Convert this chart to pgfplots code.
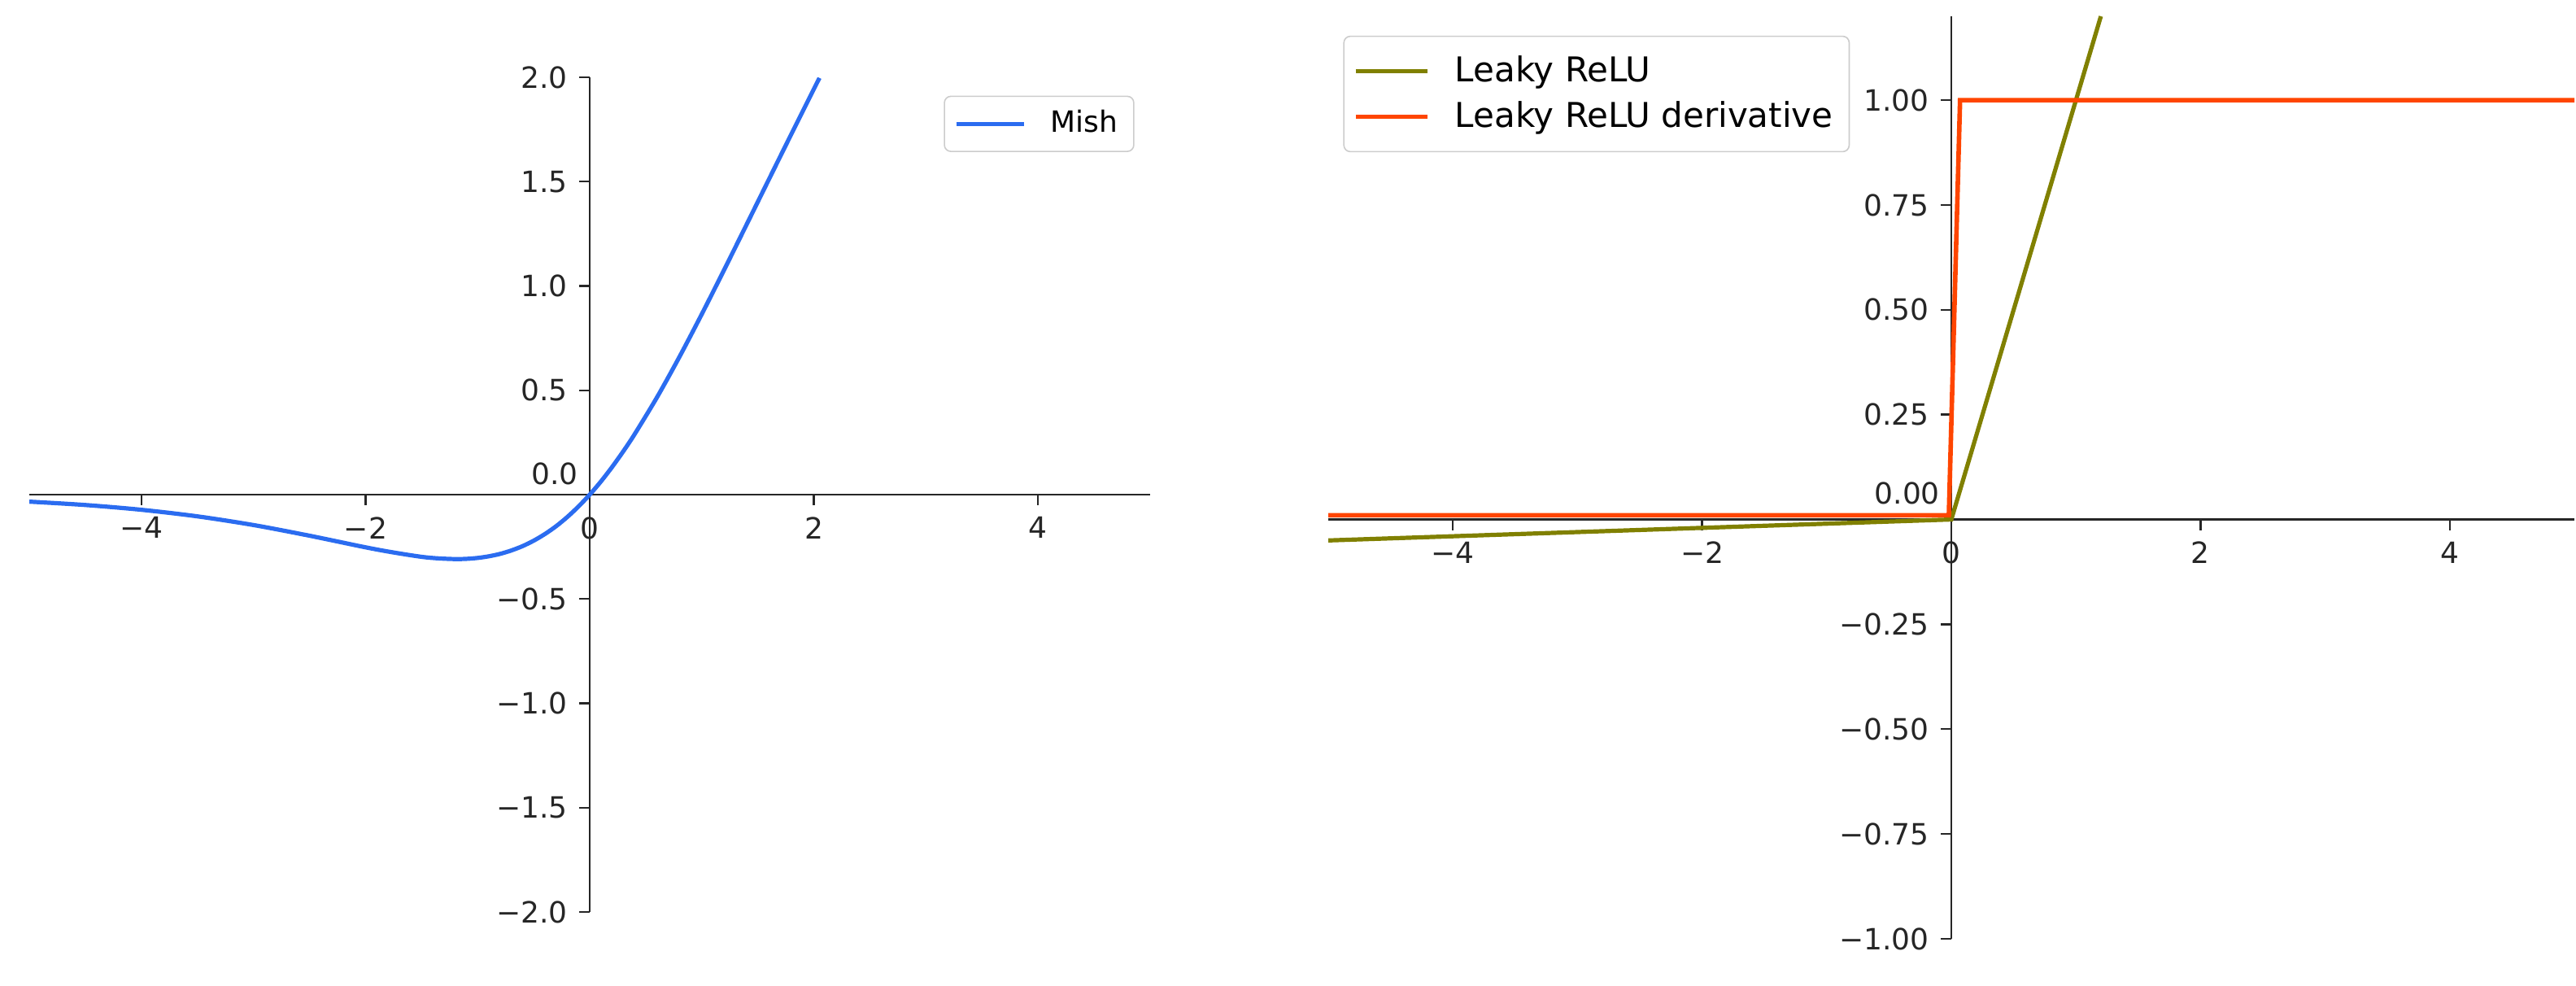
\documentclass[border=0pt]{standalone}
\usepackage{pgfplots}
\pgfplotsset{compat=1.18}
\usepackage{fontspec}
\setmainfont{DejaVu Sans}
\definecolor{mishblue}{RGB}{43,108,240}
\definecolor{lrolive}{RGB}{128,128,0}
\definecolor{lrred}{RGB}{255,69,0}
\pgfplotsset{myax/.style={
  scale only axis, axis lines=middle,
  axis line style={-, line width=0.6pt, black!85},
  tick align=outside, major tick length=3.3pt,
  tick style={line width=0.6pt, black!85},
  hide obscured x ticks=false, hide obscured y ticks=false,
  ticklabel style={font=\fontsize{9}{10}\selectfont, text=black!85},
  legend cell align=left,
  legend style={draw=black!20, rounded corners=2pt, fill=white, fill opacity=0.85, text opacity=1,
    inner xsep=3pt},
}}
\pgfplotstableread{
x y
-5.0 -0.0336
-4.5 -0.0497
-4.0 -0.0726
-3.5 -0.1041
-3.0 -0.1457
-2.5 -0.1968
-2.0 -0.2525
-1.75 -0.2772
-1.5 -0.2981
-1.35 -0.3055
-1.2 -0.3088
-1.1 -0.3077
-1.0 -0.3034
-0.9 -0.2955
-0.8 -0.2840
-0.7 -0.2677
-0.6 -0.2470
-0.5 -0.2207
-0.4 -0.1889
-0.3 -0.1514
-0.2 -0.1072
-0.1 -0.0568
0.0 0.0
0.1 0.0630
0.2 0.1326
0.3 0.2080
0.4 0.2890
0.6 0.4661
0.8 0.6597
1.0 0.8651
1.2 1.0780
1.4 1.2946
1.6 1.5122
1.8 1.7290
2.0 1.9440
2.05 1.9970
}\mishdata
\begin{document}
\begin{tikzpicture}
\useasboundingbox (0,0) rectangle (791.75pt,302.75pt);
\begin{axis}[myax,
  at={(9pt,22.5pt)}, anchor=south west,
  width=344.5pt, height=256.5pt,
  xmin=-5, xmax=5, ymin=-2, ymax=2,
  xtick={-4,-2,0,2,4}, xticklabels={−4,−2,0,2,4},
  ytick={-2,-1.5,-1,-0.5,0.5,1,1.5,2},
  yticklabels={−2.0,−1.5,−1.0,−0.5,0.5,1.0,1.5,2.0},
  extra y ticks={0}, extra y tick labels={0.0},
  extra y tick style={yticklabel style={yshift=6.5pt}, major tick length=0pt},
  legend style={at={(0.986,0.978)}, anchor=north east, font=\fontsize{9}{10}\selectfont,
    inner ysep=2.3pt, column sep=5.5pt},
  legend image code/.code={\draw[#1,line width=1.3pt] (0pt,0pt) -- (20.75pt,0pt);},
]
\addplot[mishblue, line width=1.3pt, smooth] table[x=x,y=y] {\mishdata};
\addlegendentry{Mish}
\end{axis}
\begin{axis}[myax,
  at={(408.25pt,14.25pt)}, anchor=south west,
  width=383pt, height=283.5pt,
  xmin=-5, xmax=5, ymin=-1, ymax=1.2,
  xtick={-4,-2,0,2,4}, xticklabels={−4,−2,0,2,4},
  ytick={-1,-0.75,-0.5,-0.25,0.25,0.5,0.75,1},
  yticklabels={−1.00,−0.75,−0.50,−0.25,0.25,0.50,0.75,1.00},
  extra y ticks={0}, extra y tick labels={0.00},
  extra y tick style={yticklabel style={yshift=8pt}, major tick length=0pt},
  legend style={at={(0.012,0.979)}, anchor=north west, font=\fontsize{10.5}{12}\selectfont,
    inner ysep=4pt, row sep=0.5pt, column sep=5.75pt},
  legend image code/.code={\draw[#1,line width=1.4pt] (0pt,0pt) -- (22pt,0pt);},
]
\addplot[lrolive, line width=1.3pt] coordinates {(-5,-0.05) (0,0) (1.2,1.2)};
\addlegendentry{Leaky ReLU}
\addplot[lrred, line width=1.4pt] coordinates {(-5,0.01) (-0.02,0.01) (0.07,1) (5,1)};
\addlegendentry{Leaky ReLU derivative}
\end{axis}
\end{tikzpicture}
\end{document}
